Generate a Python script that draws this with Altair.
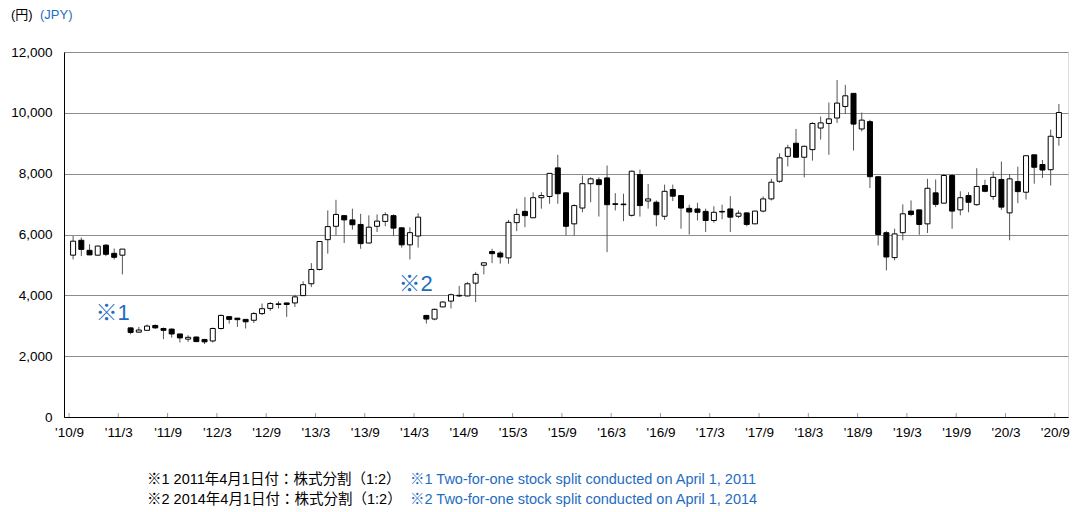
import json
import altair as alt
import pandas as pd

# ---- data (monthly candles, 2010/9 - 2020/9) ----
months = []
for y in range(2010, 2021):
    for m in range(1, 13):
        if (y == 2010 and m < 9) or (y == 2020 and m > 9):
            continue
        months.append(f"{y}/{m}")

opens = [5320, 5810, 5480, 5320, 5650, 5380, 5320,
         2930, 2790, 2850, 3010, 2910, 2890, 2730, 2560, 2630,
         2550, 2500, 2910, 3300, 3250, 3210, 3180, 3400, 3570, 3700, 3750, 3750,
         3990, 4380, 4850, 5830, 6270, 6620, 6480, 6330, 5720, 6270, 6430, 6620,
         6220, 5660, 5950, 3340, 3220, 3620, 3810, 3980, 3980, 4400, 4990, 5440,
         5390, 5230, 6390, 6760, 6550, 7210, 7250, 8190, 7370, 6350, 6870, 7670,
         7800, 7860, 7010, 7000, 6630, 7970, 7100, 7060, 6600, 7480, 7280, 6860,
         6840, 6760, 6460, 6760, 6840, 6600, 6710, 6350, 6770, 7170, 7750, 8570,
         9000, 8540, 8790, 9500, 9650, 9830, 10210, 10640, 9470, 9710, 7900, 6060,
         5240, 6060, 6770, 6810, 6350, 7370, 7030, 7940, 6810, 7280, 6980, 7610,
         7250, 7810, 6710, 7740, 7390, 8620, 8300, 8130, 9190]
highs = [5950, 5900, 5680, 5630, 5680, 5540, 5520,
         2940, 2960, 3040, 3040, 2940, 2910, 2730, 2690, 2640,
         2550, 2940, 3370, 3310, 3250, 3210, 3450, 3730, 3780, 3800, 3750, 4020,
         4460, 5060, 5780, 6790, 7140, 6630, 6850, 6680, 6630, 6660, 6730, 6660,
         6230, 6240, 6700, 3350, 3560, 3800, 4060, 4310, 4440, 4770, 5070, 5530,
         5450, 6480, 6850, 7230, 7390, 7390, 8010, 8620, 7380, 6990, 7940, 7880,
         7880, 8270, 7360, 7340, 8100, 8130, 7660, 7120, 7640, 7640, 7290, 6980,
         7040, 6850, 6930, 6980, 7260, 6790, 6720, 6780, 7250, 7830, 8670, 8950,
         9470, 8920, 9690, 9880, 10340, 11080, 10920, 10640, 10010, 9770, 7900, 6110,
         6190, 6990, 7120, 6810, 7830, 7810, 7990, 7990, 7420, 7390, 8180, 7800,
         8070, 8400, 7990, 8230, 8590, 8620, 8450, 9450, 10290]
lows = [5180, 5290, 5320, 5310, 5290, 5180, 4690,
        2720, 2780, 2840, 2900, 2560, 2610, 2450, 2470, 2460,
        2400, 2450, 2880, 3070, 2960, 2910, 3090, 3350, 3490, 3570, 3290, 3620,
        3990, 4270, 4820, 5370, 5970, 5720, 6160, 5530, 5710, 6080, 6270, 5950,
        5570, 5180, 5570, 3070, 3180, 3610, 3570, 3950, 3970, 3780, 4690, 5060,
        5040, 5040, 6110, 6240, 6540, 6850, 7010, 7010, 5970, 5970, 6730, 7060,
        6590, 5420, 6790, 6440, 6590, 6590, 6850, 6270, 6480, 7100, 6190, 6000,
        6460, 6080, 6390, 6500, 6080, 6540, 6270, 6350, 6730, 7120, 7700, 8240,
        8530, 7880, 8430, 9120, 8620, 9670, 9960, 8760, 9390, 7530, 5640, 4820,
        5150, 5810, 6600, 5990, 6050, 6900, 7030, 6190, 6630, 6730, 6950, 7390,
        7140, 6810, 5810, 7030, 7150, 7670, 7860, 7610, 8920]
closes = [5780, 5510, 5330, 5620, 5350, 5250, 5520,
          2780, 2860, 2990, 2930, 2850, 2730, 2600, 2620, 2480,
          2470, 2910, 3340, 3210, 3200, 3130, 3400, 3560, 3730, 3720, 3700, 3950,
          4350, 4850, 5770, 6260, 6660, 6480, 6320, 5700, 6240, 6440, 6650, 6210,
          5660, 6060, 6570, 3220, 3540, 3780, 4020, 4000, 4380, 4690, 5070, 5370,
          5260, 6400, 6660, 6620, 7210, 7280, 8010, 7340, 6270, 6950, 7670, 7830,
          7640, 6980, 6990, 6980, 8080, 6950, 7170, 6650, 7420, 7260, 6870, 6740,
          6730, 6460, 6730, 6740, 6570, 6700, 6330, 6770, 7170, 7720, 8520, 8850,
          8540, 8900, 9650, 9670, 9800, 10320, 10560, 9630, 9760, 7900, 6000, 5260,
          6020, 6680, 6660, 6330, 7520, 6990, 7940, 6770, 7210, 7060, 7580, 7420,
          7880, 6900, 7830, 7410, 8590, 8210, 8120, 9230, 10010]

tick_labels = ["'10/9", "'11/3", "'11/9", "'12/3", "'12/9", "'13/3", "'13/9",
               "'14/3", "'14/9", "'15/3", "'15/9", "'16/3", "'16/9", "'17/3",
               "'17/9", "'18/3", "'18/9", "'19/3", "'19/9", "'20/3", "'20/9"]
y_ticks = [0, 2000, 4000, 6000, 8000, 10000, 12000]

split_marks = ["※1", "※2"]
split_pos = [5.3, 42.2]        # month index where the note sits
split_val = [3430, 4380]       # price level where the note sits

notes_ja = ["※1 2011年4月1日付：株式分割（1:2）", "※2 2014年4月1日付：株式分割（1:2）"]
notes_en = ["※1 Two-for-one stock split conducted on April 1, 2011",
            "※2 Two-for-one stock split conducted on April 1, 2014"]

# ---- build tables ----
df = pd.DataFrame({"month": months, "open": opens, "high": highs,
                   "low": lows, "close": closes})
df["xc"] = [i + 0.5 for i in range(len(df))]

ticks_df = pd.DataFrame({"pos": [i * 6 for i in range(len(tick_labels))],
                         "label": tick_labels})
split_df = pd.DataFrame({"label": split_marks, "pos": split_pos, "val": split_val})

FONT = "Arial, 'Liberation Sans', 'Noto Sans CJK JP', sans-serif"
BLUE = "#1f6cc1"

label_arr = "[" + ",".join(json.dumps(l) for l in tick_labels) + "]"

xscale = alt.Scale(domain=[0, len(months)], nice=False, zero=False)
yscale = alt.Scale(domain=[0, 12000], nice=False)

xaxis = alt.Axis(values=ticks_df["pos"].tolist(),
                 labelExpr=label_arr + "[round(datum.value/6)]",
                 title=None, grid=False, ticks=False, domain=True,
                 domainColor="black", domainWidth=1,
                 labelFont=FONT, labelFontSize=13.5, labelColor="black",
                 labelPadding=8, labelFlush=False, labelOverlap=False)
yaxis = alt.Axis(values=y_ticks, format=",d", title=None, grid=True,
                 gridColor="#8c8c8c", gridWidth=1, ticks=False, domain=True,
                 domainColor="black", domainWidth=1,
                 labelFont=FONT, labelFontSize=13.5, labelColor="black",
                 labelPadding=12)

base = alt.Chart(df)

wick = base.mark_rule(color="#555555", strokeWidth=1).encode(
    x=alt.X("xc:Q", scale=xscale, axis=xaxis),
    y=alt.Y("low:Q", scale=yscale, axis=yaxis),
    y2="high:Q",
)

body = base.mark_bar(size=5, stroke="black", strokeWidth=1).encode(
    x=alt.X("xc:Q", scale=xscale),
    y=alt.Y("open:Q", scale=yscale),
    y2="close:Q",
    fill=alt.condition("datum.close > datum.open", alt.value("white"), alt.value("black")),
)

tick_marks = alt.Chart(ticks_df).mark_rule(color="#9a9a9a", strokeWidth=1).encode(
    x=alt.X("pos:Q", scale=xscale),
    y=alt.value(365), y2=alt.value(361),
)

splits = alt.Chart(split_df).mark_text(
    font=FONT, fontSize=22, color=BLUE, align="center", baseline="middle"
).encode(
    x=alt.X("pos:Q", scale=xscale),
    y=alt.Y("val:Q", scale=yscale),
    text="label:N",
)


def label(txt, x, y, color, size):
    return alt.Chart(pd.DataFrame({"t": [txt]})).mark_text(
        font=FONT, fontSize=size, color=color, align="left", baseline="middle"
    ).encode(x=alt.value(x), y=alt.value(y), text="t:N")


layers = [wick, body, tick_marks, splits,
          label("(円)", -53, -37, "black", 13),
          label("(JPY)", -24, -37, BLUE, 13)]
for i in range(2):
    layers.append(label(notes_ja[i], 83, 428 + 19.5 * i, "black", 14.5))
    layers.append(label(notes_en[i], 346, 428 + 19.5 * i, BLUE, 14.5))

chart = alt.layer(*layers).properties(
    width=1004, height=365, autosize="none",
    padding={"left": 56, "top": 44, "right": 3, "bottom": 92},
).configure_view(stroke=None).configure(background="white")

chart.save("out.html", embed_options={"renderer": "svg", "actions": False})
